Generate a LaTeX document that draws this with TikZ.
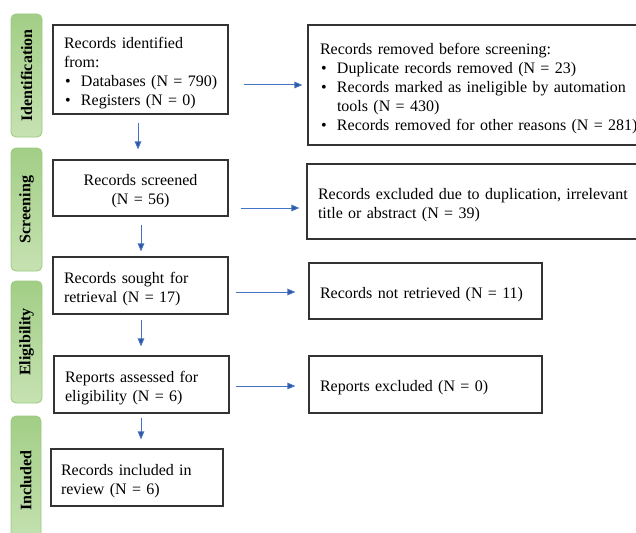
\documentclass[tikz,border=0pt]{standalone}
\usepackage{fontspec}
\setmainfont{Liberation Serif}
\usetikzlibrary{arrows.meta}
\definecolor{arrblue}{HTML}{4472C4}
\definecolor{headblue}{HTML}{2F5597}
\definecolor{barL}{HTML}{A2CE86}
\definecolor{barR}{HTML}{C6E2B2}
\definecolor{barB}{HTML}{9CC97F}
\definecolor{boxline}{HTML}{333333}
\newcommand{\oneline}[1]{\mbox{#1}}
\newcommand{\bitem}[1]{\mbox{\makebox[17pt][l]{\hspace{1pt}\textbullet}#1}}
\newcommand{\bcont}[1]{\mbox{\hspace*{17pt}#1}}
\tikzset{
  box/.style={draw=boxline, line width=1.1pt, inner xsep=11pt, inner ysep=0pt,
    font=\fontsize{16}{19}\selectfont, align=left,
    execute at begin node={\rule{0pt}{17.5pt}}},
  bar/.style={draw=barB, line width=0.8pt, rounded corners=5pt, rotate=90,
    top color=barL, bottom color=barR, minimum height=31pt, inner sep=0pt,
    font=\fontsize{16}{19}\selectfont\bfseries},
  arr/.style={draw=arrblue, line width=1pt, -{Triangle[length=8pt,width=6.5pt,fill=headblue]}}
}
\begin{document}
\begin{tikzpicture}[x=1pt,y=-1pt]
\useasboundingbox (0,0) rectangle (636,532);
\clip (0,0) rectangle (636,532);
% side bars
\node[bar, minimum width=123pt] (s1) at (26.5,75.5) {Identification};
\node[bar, minimum width=123pt] (s2) at (26.5,209.5) {Screening};
\node[bar, minimum width=122pt] (s3) at (26.5,342) {Eligibility};
\node[bar, minimum width=129pt, minimum height=30pt] (s4) at (26,480.5) {Included};
% left boxes
\node[box, text width=153pt, minimum height=89pt] (b1) at (140.5,69.5)
  {\oneline{Records identified}\\\oneline{from:}\\\bitem{Databases (N = 790)}\\\bitem{Registers (N = 0)}};
\node[box, text width=153pt, minimum height=56pt, align=center] (b2) at (140.5,188)
  {Records screened\\(N = 56)};
\node[box, text width=153pt, minimum height=57pt] (b3) at (140.5,285.5)
  {\oneline{Records sought for}\\\oneline{retrieval (N = 17)}};
\node[box, text width=153pt, minimum height=57pt] (b4) at (141.5,384.5)
  {\oneline{Reports assessed for}\\\oneline{eligibility (N = 6)}};
\node[box, text width=152pt, minimum height=57pt, inner xsep=10pt] (b5) at (137,477.5)
  {\oneline{Records included in}\\\oneline{review (N = 6)}};
% right boxes
\node[box, text width=308pt, minimum height=120pt, inner xsep=12pt] (r1) at (474,85)
  {\oneline{Records removed before screening:}\\\bitem{Duplicate records removed (N = 23)}\\\bitem{Records marked as ineligible by automation}\\\bcont{tools (N = 430)}\\\bitem{Records removed for other reasons (N = 281)}};
\node[box, text width=311pt, minimum height=75pt] (r2) at (473.5,201.5)
  {\oneline{Records excluded due to duplication, irrelevant}\\\oneline{title or abstract (N = 39)}};
\node[box, text width=211pt, minimum height=56pt] (r3) at (425.5,291)
  {\oneline{Records not retrieved (N = 11)}};
\node[box, text width=211pt, minimum height=57pt] (r4) at (425.5,384.5)
  {\oneline{Reports excluded (N = 0)}};
% horizontal arrows
\draw[arr, shorten <=15pt, shorten >=5pt] (b1.east |- r1.west) -- (r1.west);
\draw[arr, shorten <=12pt, shorten >=7pt] ([yshift=-6.5pt]b2.east |- r2.west) -- ([yshift=-6.5pt]r2.west);
\draw[arr, shorten <=7pt, shorten >=13pt] ([yshift=-1pt]b3.east |- r3.west) -- ([yshift=-1pt]r3.west);
\draw[arr, shorten <=6pt, shorten >=13pt] ([yshift=-1.5pt]b4.east) -- ([yshift=-1.5pt]r4.west);
% vertical arrows
\draw[arr, shorten <=8pt, shorten >=10pt] ([xshift=-2.5pt]b1.south) -- ([xshift=-2.5pt]b1.south |- b2.north);
\draw[arr, shorten <=8pt, shorten >=5pt] ([xshift=0.5pt]b2.south) -- ([xshift=0.5pt]b2.south |- b3.north);
\draw[arr, shorten <=5pt, shorten >=9pt] ([xshift=0.5pt]b3.south) -- ([xshift=0.5pt]b3.south |- b4.north);
\draw[arr, shorten <=4pt, shorten >=9pt] ([xshift=-0.5pt]b4.south) -- ([xshift=-0.5pt]b4.south |- b5.north);
\end{tikzpicture}
\end{document}
